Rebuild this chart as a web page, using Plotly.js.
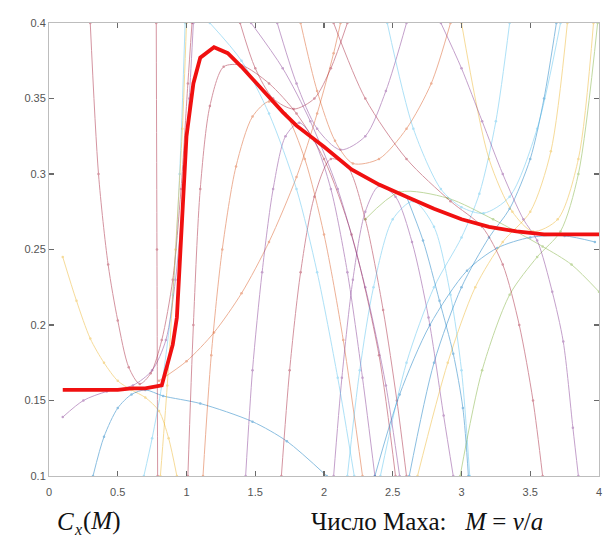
<!DOCTYPE html>
<html><head><meta charset="utf-8">
<script src="https://cdn.plot.ly/plotly-3.0.1.min.js"></script>
<style>html,body{margin:0;padding:0;background:#fff}#c{width:606px;height:541px}</style>
</head><body><div id="c"></div>
<script>
// Main drag law Cx(M) (thick red)
const machMain = [0.1,0.3,0.5,0.6,0.7,0.82,0.9,0.93,0.97,1.0,1.05,1.1,1.2,1.3,1.4,1.5,1.6,1.7,1.8,1.9,2.0,2.2,2.4,2.6,2.8,3.0,3.2,3.4,3.6,3.8,4.0];
const cxMain   = [0.157,0.157,0.157,0.158,0.158,0.160,0.187,0.205,0.27,0.325,0.36,0.377,0.384,0.380,0.371,0.361,0.351,0.341,0.332,0.325,0.318,0.303,0.293,0.285,0.277,0.270,0.265,0.262,0.260,0.260,0.260];

// Thin local-fit curves
const fitA_M = [0.30,0.36,0.43,0.50,0.58,0.66,0.74,0.82,0.90,0.96,1.01,1.04];
const fitA_C = [0.40,0.30,0.24,0.203,0.172,0.161,0.168,0.19,0.23,0.29,0.36,0.40];
const fitB_M = [0.10,0.20,0.30,0.40,0.50,0.60,0.70,0.80,0.87,0.93];
const fitB_C = [0.245,0.216,0.191,0.175,0.163,0.157,0.152,0.143,0.125,0.10];
const fitC_M = [0.10,0.25,0.42,0.61,0.75,0.85,0.92,0.97,1.02,1.05];
const fitC_C = [0.139,0.150,0.156,0.160,0.170,0.19,0.23,0.28,0.35,0.40];
const fitD_M = [0.80,1.0,1.2,1.4,1.6,1.8,1.95,2.07,2.12];
const fitD_C = [0.163,0.176,0.195,0.221,0.255,0.298,0.34,0.38,0.40];
const fitE_M = [0.32,0.40,0.50,0.60,0.70,0.83,1.10,1.48,1.73,2.02];
const fitE_C = [0.10,0.126,0.145,0.154,0.157,0.153,0.148,0.136,0.123,0.10];
const fitF_M = [0.78,0.785,0.79];
const fitF_C = [0.40,0.25,0.10];
const fitG_M = [0.69,0.75,0.82,0.90,0.95,0.99];
const fitG_C = [0.10,0.125,0.16,0.22,0.30,0.40];
const fitH_M = [0.81,0.86,0.92,0.97,1.00];
const fitH_C = [0.10,0.16,0.25,0.33,0.40];
const fitI_M = [1.01,1.05,1.10,1.17,1.27,1.40,1.60,1.80,2.00,2.20,2.40,2.52];
const fitI_C = [0.10,0.20,0.29,0.345,0.371,0.372,0.36,0.34,0.31,0.26,0.18,0.10];
const fitJ_M = [1.12,1.18,1.26,1.36,1.48,1.60,1.72,1.86,2.00,2.14,2.28];
const fitJ_C = [0.10,0.18,0.25,0.305,0.338,0.348,0.34,0.31,0.26,0.19,0.10];
const fitK_M = [1.43,1.48,1.55,1.63,1.72,1.82,1.93,2.05,2.17,2.28,2.37];
const fitK_C = [0.10,0.17,0.235,0.29,0.325,0.334,0.322,0.29,0.235,0.165,0.10];
const fitL_M = [1.69,1.75,1.83,1.93,2.05,2.17,2.30,2.43,2.53,2.60];
const fitL_C = [0.10,0.17,0.235,0.285,0.31,0.305,0.27,0.21,0.15,0.10];
const fitN_M = [2.07,2.13,2.21,2.30,2.40,2.52,2.64,2.76,2.87,2.94];
const fitN_C = [0.10,0.165,0.23,0.275,0.292,0.285,0.255,0.205,0.14,0.10];
const fitO_M = [2.17,2.26,2.36,2.50,2.65,2.80,2.92,3.00,3.06];
const fitO_C = [0.10,0.17,0.225,0.27,0.282,0.265,0.22,0.17,0.10];
const fitP_M = [2.37,2.55,2.77,3.04,3.26,3.50,3.75,3.97];
const fitP_C = [0.10,0.154,0.20,0.236,0.251,0.258,0.259,0.255];
const fitQ_M = [2.30,2.55,2.90,3.23,3.59,3.80,4.00];
const fitQ_C = [0.27,0.288,0.284,0.27,0.252,0.24,0.222];
const fitR_M = [2.41,2.60,2.80,3.00,3.13,3.25,3.35];
const fitR_C = [0.10,0.175,0.225,0.258,0.287,0.335,0.40];
const fitS_M = [2.62,2.80,3.00,3.20,3.35,3.50,3.60,3.69];
const fitS_C = [0.10,0.175,0.225,0.258,0.277,0.31,0.35,0.40];
const fitT_M = [2.68,2.90,3.10,3.30,3.50,3.65,3.77];
const fitT_C = [0.10,0.175,0.225,0.255,0.275,0.315,0.40];
const fitU_M = [2.99,3.15,3.35,3.55,3.72,3.85,3.99];
const fitU_C = [0.10,0.17,0.22,0.245,0.262,0.30,0.40];
const fitV_M = [1.39,1.50,1.63,1.78,1.93,2.05,2.17];
const fitV_C = [0.40,0.37,0.35,0.343,0.35,0.37,0.40];
const fitW_M = [1.66,1.80,1.95,2.12,2.30,2.45,2.60];
const fitW_C = [0.40,0.36,0.33,0.316,0.325,0.355,0.40];
const fitX_M = [1.83,1.95,2.08,2.21,2.40,2.60,2.78,2.92];
const fitX_C = [0.40,0.355,0.322,0.307,0.31,0.33,0.36,0.40];
const fitY_M = [2.46,2.65,2.85,3.00,3.16,3.35,3.55,3.72];
const fitY_C = [0.40,0.33,0.29,0.278,0.274,0.285,0.33,0.40];
const fitZ_M = [3.00,3.20,3.37,3.52,3.70,3.85,3.96];
const fitZ_C = [0.40,0.31,0.275,0.262,0.27,0.31,0.40];
const fitAA_M = [1.17,1.40,1.60,1.80,1.95,2.10,2.22];
const fitAA_C = [0.40,0.375,0.34,0.29,0.235,0.165,0.10];
const fitAB_M = [1.47,1.70,1.90,2.10,2.30,2.45,2.55];
const fitAB_C = [0.40,0.37,0.335,0.29,0.225,0.16,0.10];
const fitAC_M = [2.07,2.30,2.60,2.92,3.15,3.30,3.42,3.52,3.59];
const fitAC_C = [0.40,0.35,0.31,0.282,0.265,0.24,0.20,0.15,0.10];
const fitAD_M = [2.85,3.00,3.15,3.30,3.45,3.55,3.66,3.74,3.81,3.85];
const fitAD_C = [0.40,0.37,0.335,0.30,0.27,0.256,0.222,0.189,0.132,0.10];
const fitAE_M = [2.60,2.72,2.84,2.94,3.01,3.05];
const fitAE_C = [0.285,0.256,0.216,0.181,0.145,0.10];

const xTicks = [0,0.5,1,1.5,2,2.5,3,3.5,4];
const xTickText = ['0','0.5','1','1.5','2','2.5','3','3.5','4'];
const yTicks = [0.1,0.15,0.2,0.25,0.3,0.35,0.4];
const yTickText = ['0.1','0.15','0.2','0.25','0.3','0.35','0.4'];

const PAL = ['#0072BD','#D95319','#EDB120','#7E2F8E','#77AC30','#4DBEEE','#A2142F'];
const fits = [
 [fitA_M,fitA_C,6],[fitB_M,fitB_C,2],[fitC_M,fitC_C,3],[fitD_M,fitD_C,1],[fitE_M,fitE_C,0],
 [fitF_M,fitF_C,6],[fitG_M,fitG_C,5],[fitH_M,fitH_C,2],[fitI_M,fitI_C,6],[fitJ_M,fitJ_C,1],
 [fitK_M,fitK_C,3],[fitL_M,fitL_C,6],[fitN_M,fitN_C,3],[fitO_M,fitO_C,5],[fitP_M,fitP_C,0],
 [fitQ_M,fitQ_C,4],[fitR_M,fitR_C,5],[fitS_M,fitS_C,0],[fitT_M,fitT_C,2],[fitU_M,fitU_C,4],
 [fitV_M,fitV_C,6],[fitW_M,fitW_C,3],[fitX_M,fitX_C,1],[fitY_M,fitY_C,5],[fitZ_M,fitZ_C,2],
 [fitAA_M,fitAA_C,5],[fitAB_M,fitAB_C,3],[fitAC_M,fitAC_C,6],[fitAD_M,fitAD_C,3],[fitAE_M,fitAE_C,0]
];

const traces = fits.map(f => ({
  x: f[0], y: f[1], type: 'scatter', mode: 'lines+markers',
  line: {color: PAL[f[2]], width: 1, shape: 'spline', smoothing: 0.8},
  marker: {size: 2.5, color: PAL[f[2]]},
  opacity: 0.45, hoverinfo: 'skip', showlegend: false
}));
traces.push({
  x: machMain, y: cxMain, type: 'scatter', mode: 'lines',
  line: {color: '#f01010', width: 3.8}, showlegend: false
});

const axisCommon = {
  showline: true, mirror: 'ticks', linecolor: '#bdbdbd', linewidth: 1,
  ticks: 'inside', ticklen: 5, tickwidth: 1.2, tickcolor: '#6a6a6a',
  showgrid: false, zeroline: false,
  tickfont: {family: 'Liberation Sans, Arial, sans-serif', size: 11, color: '#555'}
};

const serif = 'Liberation Serif, Times New Roman, serif';
const yText = -(521-476)/453;
const layout = {
  width: 606, height: 541,
  margin: {l: 49, r: 7, t: 23, b: 65},
  paper_bgcolor: '#fff', plot_bgcolor: '#fff',
  xaxis: Object.assign({}, axisCommon, {range: [0, 4], tickmode: 'array', tickvals: xTicks, ticktext: xTickText, ticklabelstandoff: 6}),
  yaxis: Object.assign({}, axisCommon, {range: [0.1, 0.4], tickmode: 'array', tickvals: yTicks, ticktext: yTickText}),
  annotations: [
    {xref: 'paper', yref: 'paper', x: (55-49)/550, y: yText, xanchor: 'left', yanchor: 'middle',
     text: '<i>C</i>', showarrow: false, font: {family: serif, size: 25, color: '#111'}},
    {xref: 'paper', yref: 'paper', x: (72-49)/550, y: -(529-476)/453, xanchor: 'left', yanchor: 'middle',
     text: '<i>x</i>', showarrow: false, font: {family: serif, size: 16, color: '#111'}},
    {xref: 'paper', yref: 'paper', x: (81-49)/550, y: yText, xanchor: 'left', yanchor: 'middle',
     text: '(<i>M</i>)', showarrow: false, font: {family: serif, size: 25, color: '#111'}},
    {xref: 'paper', yref: 'paper', x: (309-49)/550, y: yText, xanchor: 'left', yanchor: 'middle',
     text: 'Число Маха:\u00a0\u00a0\u00a0<i>M</i> = <i>v</i>/<i>a</i>', showarrow: false,
     font: {family: serif, size: 25, color: '#111'}}
  ]
};

Plotly.newPlot('c', traces, layout, {staticPlot: true, displayModeBar: false});
</script></body></html>
